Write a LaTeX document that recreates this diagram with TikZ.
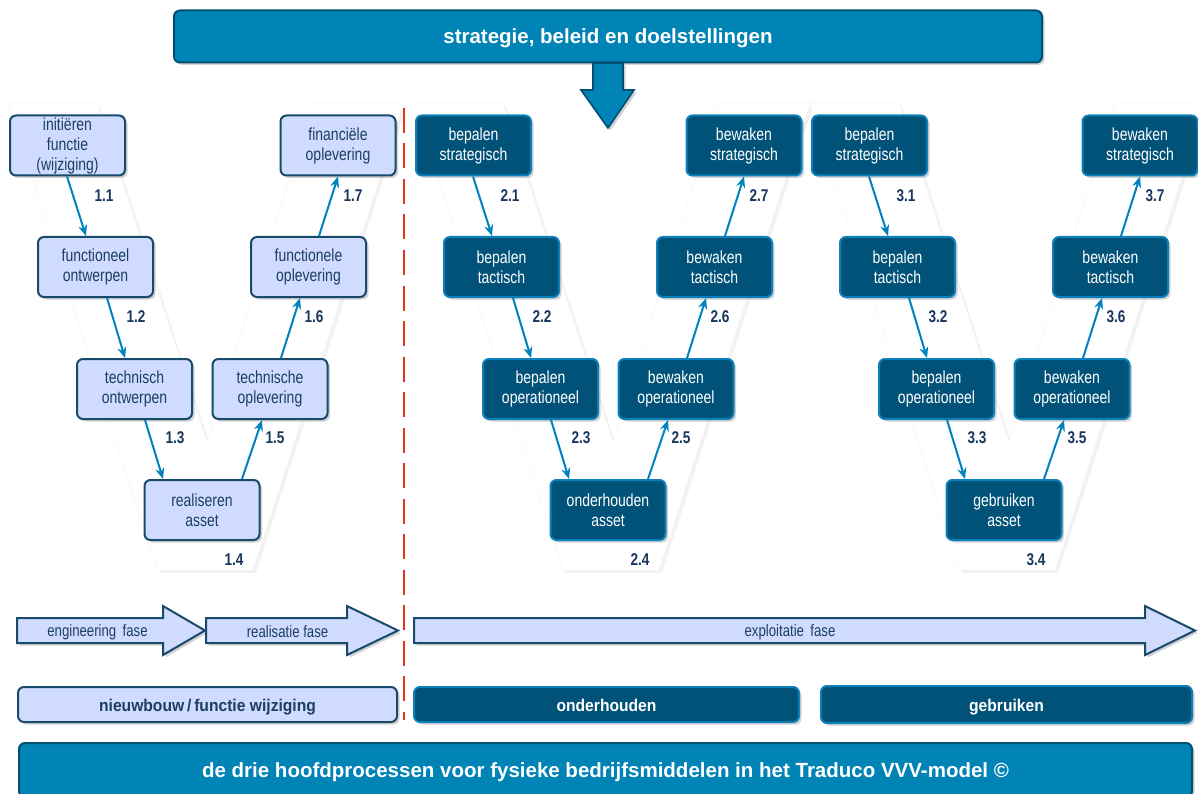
\documentclass[tikz,border=0pt]{standalone}
\usepackage{fontspec}
\setmainfont{Liberation Sans}
\newfontfamily\nfont[FakeStretch=0.8]{Liberation Sans}
\newfontfamily\bfont[FakeStretch=0.92]{Liberation Sans}
\usetikzlibrary{shadows,calc,arrows.meta}
\definecolor{lfill}{RGB}{208,220,255}
\definecolor{lbord}{RGB}{24,74,108}
\definecolor{ltext}{RGB}{28,62,100}
\definecolor{dfill}{RGB}{0,82,120}
\definecolor{dbord}{RGB}{12,128,186}
\definecolor{banfill}{RGB}{0,131,181}
\definecolor{banbord}{RGB}{0,80,115}
\definecolor{conncol}{RGB}{0,130,190}
\definecolor{numcol}{RGB}{25,55,92}
\definecolor{redline}{RGB}{232,52,30}
\tikzset{
  shad/.style={drop shadow={opacity=0.35,shadow xshift=2.5pt,shadow yshift=-2.5pt}},
  boxbase/.style={line width=2pt, rounded corners=6pt, minimum width=115pt, minimum height=60pt,
    align=center, inner sep=0pt, font=\nfont\fontsize{17.5}{20}\selectfont, shad},
  lbox/.style={boxbase, draw=lbord, fill=lfill, text=ltext},
  dbox/.style={boxbase, draw=dbord, fill=dfill, text=white},
  conn/.style={draw=conncol, line width=2pt, -{Stealth[length=11pt,width=9pt]}},
  num/.style={font=\nfont\bfseries\fontsize{17}{17}\selectfont, text=numcol},
  vback/.style={fill=white, draw=black!4, line width=0.5pt,
    drop shadow={opacity=0.1,shadow xshift=3pt,shadow yshift=-3pt}},
  banner/.style={draw=banbord, fill=banfill, line width=2pt, rounded corners=6pt, text=white,
    font=\bfseries\fontsize{20.5}{20.5}\selectfont, text height=17pt, text depth=2pt, shad},
  lbar/.style={draw=lbord, fill=lfill, line width=2pt, rounded corners=6pt, text=ltext,
    font=\bfont\bfseries\fontsize{17}{17}\selectfont, text height=15pt, text depth=2pt,
    minimum height=35pt, shad},
  dbar/.style={draw=dbord, fill=dfill, line width=2pt, rounded corners=6pt, text=white,
    font=\bfont\bfseries\fontsize{17}{17}\selectfont, text height=15pt, text depth=2pt,
    minimum height=35pt, shad},
  phase/.style={draw=lbord, fill=lfill, line width=2pt, shad},
  phasetext/.style={text=ltext, font=\nfont\fontsize{16.5}{16.5}\selectfont},
  reddash/.style={draw=redline, line width=2.7pt, dash pattern=on 25pt off 10.5pt}
}
\newcommand\Vback{\path[vback] (8,103) -- (97,103) -- (207,442) -- (313,103) -- (404,103) -- (253,570) -- (157,570) -- cycle;}
\newcommand\Vnodes[9]{%
  \node[#2] (#1s1) at (67.5,145.5) {#3};
  \node[#2] (#1s2) at (95.5,267) {#4};
  \node[#2] (#1s3) at (134.5,389) {#5};
  \node[#2] (#1s4) at (202,510) {#6};
  \node[#2] (#1s5) at (270,389) {#7};
  \node[#2] (#1s6) at (308.5,267) {#8};
  \node[#2] (#1s7) at (338,145.5) {#9};
}
\newcommand\Vconn[2]{%
  \draw[conn] ($(#1s1.south)+(-0.5,0)$) -- ($(#1s2.north)+(-9.5,0)$);
  \draw[conn] ($(#1s2.south)+(11.5,0)$) -- ($(#1s3.north)+(-9.5,0)$);
  \draw[conn] ($(#1s3.south)+(10.5,0)$) -- ($(#1s4.north)+(-39,0)$);
  \draw[conn] ($(#1s4.north)+(40,0)$) -- ($(#1s5.south)+(-8,0)$);
  \draw[conn] ($(#1s5.north)+(11,0)$) -- ($(#1s6.south)+(-8.5,0)$);
  \draw[conn] ($(#1s6.north)+(10.5,0)$) -- ($(#1s7.south)+(0,0)$);
  \node[num] (#1l1) at (104,196) {#2.1};
  \node[num] (#1l2) at (136,317) {#2.2};
  \node[num] (#1l3) at (175,438) {#2.3};
  \node[num] (#1l4) at (234,560) {#2.4};
  \node[num] (#1l5) at (275,438) {#2.5};
  \node[num] (#1l6) at (314,317) {#2.6};
  \node[num] (#1l7) at (353,196) {#2.7};
}
\begin{document}
\begin{tikzpicture}[x=1pt,y=-1pt]
\useasboundingbox (0,0) rectangle (1198,794);
% V backgrounds
\begin{scope}\Vback\end{scope}
\begin{scope}[xshift=406pt]\Vback\end{scope}
\begin{scope}[xshift=802pt]\Vback\end{scope}
% top banner and arrow
\node[banner, minimum width=868pt, minimum height=52pt] (top) at (608,36.5) {strategie, beleid en doelstellingen};
\path[draw=banbord, fill=banfill, line width=1.6pt, shad] (593,63) -- (623,63) -- (623,90) -- (634,90) -- (608,128) -- (581,90) -- (593,90) -- cycle;
% red dashed separator
\coordinate (rtop) at (404,108);
\coordinate (rbot) at (404,720);
\draw[reddash] (rtop) -- (rbot);
% groups
\Vnodes{A}{lbox}{initiëren\\functie\\(wijziging)}{functioneel\\ontwerpen}{technisch\\ontwerpen}{realiseren\\asset}{technische\\oplevering}{functionele\\oplevering}{financiële\\oplevering}
\Vconn{A}{1}
\begin{scope}[xshift=406pt]
\Vnodes{B}{dbox}{bepalen\\strategisch}{bepalen\\tactisch}{bepalen\\operationeel}{onderhouden\\asset}{bewaken\\operationeel}{bewaken\\tactisch}{bewaken\\strategisch}
\Vconn{B}{2}
\end{scope}
\begin{scope}[xshift=802pt]
\Vnodes{C}{dbox}{bepalen\\strategisch}{bepalen\\tactisch}{bepalen\\operationeel}{gebruiken\\asset}{bewaken\\operationeel}{bewaken\\tactisch}{bewaken\\strategisch}
\Vconn{C}{3}
\end{scope}
% phase arrows
\path[phase] (17,618) -- (163,618) -- (163,606) -- (205,630.5) -- (163,655) -- (163,643) -- (17,643) -- cycle;
\node[phasetext] (eng) at (97.5,632) {engineering\, fase};
\path[phase] (206,618) -- (347,618) -- (347,606) -- (398,630.5) -- (347,655) -- (347,643) -- (206,643) -- cycle;
\node[phasetext] (real) at (287.5,632) {realisatie fase};
\path[phase] (414,618) -- (1145,618) -- (1145,606) -- (1195,630.5) -- (1145,655) -- (1145,643) -- (414,643) -- cycle;
\node[phasetext] (expl) at (790,632) {exploitatie\, fase};
% bars
\node[lbar, minimum width=379pt] (nieuw) at (207.5,704.5) {nieuwbouw\,/\,functie wijziging};
\node[dbar, minimum width=385pt] (onder) at (606.5,704.5) {onderhouden};
\node[dbar, minimum width=371pt, minimum height=37pt] (gebr) at (1006.5,704.5) {gebruiken};
% bottom banner
\node[banner, minimum width=1173pt, minimum height=54pt] (bottom) at (605.5,770) {de drie hoofdprocessen voor fysieke bedrijfsmiddelen in het Traduco VVV-model ©};
\end{tikzpicture}
\end{document}
